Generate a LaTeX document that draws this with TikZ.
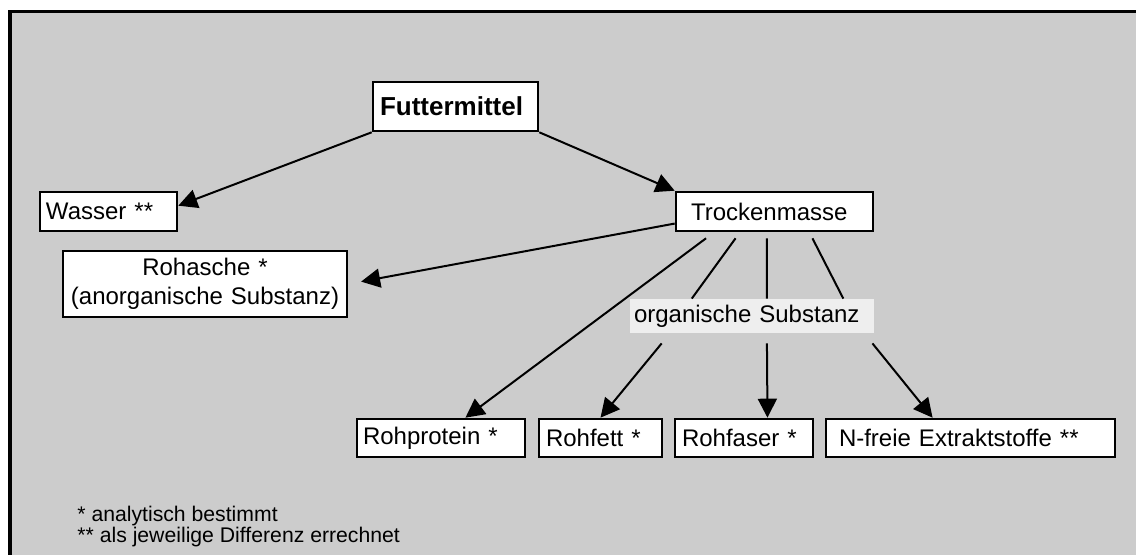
\documentclass[tikz,border=0pt]{standalone}
\usepackage{fontspec}
\setmainfont{Liberation Sans}
\usetikzlibrary{arrows.meta,calc}
\definecolor{bggray}{HTML}{CCCCCC}
\definecolor{labgray}{HTML}{EEEEEE}
\begin{document}
\begin{tikzpicture}[x=0.5pt,y=-0.5pt,
  box/.style={draw=black,line width=1.3pt,fill=white,font=\fontsize{12}{14.5}\selectfont,inner ysep=0pt,align=left},
  conn/.style={line width=1pt},
  arr/.style={conn,-{Triangle[length=9.5pt,width=9.5pt]}},
  note/.style={font=\fontsize{10.6}{12}\selectfont,anchor=base west,inner sep=0pt}]
\useasboundingbox (0,0) rectangle (1136,555);
\path[fill=white] (0,0) rectangle (1136,555);
\draw[fill=bggray,line width=1.75pt] (10,11.5) rectangle (1150,570);

\node[box,minimum height=24.5pt,inner xsep=3.5pt,text width=75.5pt,font=\fontsize{13}{15}\selectfont\bfseries] (futter) at (455.5,106.5) {Futtermittel};
\node[box,minimum height=19.5pt,inner xsep=7.5pt,text width=83.5pt] (trocken) at (774.5,211.5) {Trockenmasse};
\node[box,minimum height=19.5pt,inner xsep=3pt,text width=62.5pt] (wasser) at (108.5,211.5) {Wasser **};
\node[box,minimum height=33pt,inner xsep=3pt,text width=136pt,align=center] (asche) at (205,284) {Rohasche *\\(anorganische Substanz)};
\node[fill=labgray,minimum height=17pt,inner xsep=2pt,inner ysep=0pt,text width=118pt,align=left,font=\fontsize{12}{14.5}\selectfont] (orgsub) at (752,316) {organische Substanz};

\node[box,minimum height=19pt,inner xsep=3pt,text width=78pt] (protein) at (441,438) {Rohprotein *};
\node[box,minimum height=19pt,inner xsep=3.5pt,text width=54.5pt] (fett) at (600.5,438) {Rohfett *};
\node[box,minimum height=19pt,inner xsep=3.5pt,text width=62pt] (faser) at (744,438) {Rohfaser *};
\node[box,minimum height=19pt,inner xsep=6.5pt,text width=131.5pt] (nfe) at (970.5,438) {N-freie Extraktstoffe **};

\draw[arr] (futter.south west) -- ($(wasser.north east)!0.36!(wasser.south east)$);
\draw[arr] (futter.south east) -- (trocken.north west);
\draw[arr,shorten >=6.5pt] ($(trocken.north west)!0.79!(trocken.south west)$) -- (asche.east);

\coordinate (t1) at ($(trocken.south west)!0.157!(trocken.south east)+(0,6)$);
\coordinate (t2) at ($(trocken.south west)!0.305!(trocken.south east)+(0,6)$);
\coordinate (t3) at ($(trocken.south west)!0.462!(trocken.south east)+(0,6)$);
\coordinate (t4) at ($(trocken.south west)!0.69!(trocken.south east)+(0,6)$);

\draw[arr] (t1) -- ($(protein.north west)!0.643!(protein.north east)$);
\draw[conn] (t2) -- ($(orgsub.north west)!0.254!(orgsub.north east)$);
\draw[arr] ($(orgsub.south west)!0.131!(orgsub.south east)+(0,10)$) -- (fett.north);
\draw[conn] (t3) -- ($(orgsub.north west)!0.561!(orgsub.north east)$);
\draw[arr] ($(orgsub.south west)!0.561!(orgsub.south east)+(0,10)$) -- ($(faser.north west)!0.667!(faser.north east)$);
\draw[conn] (t4) -- ($(orgsub.north west)!0.873!(orgsub.north east)$);
\draw[arr] ($(orgsub.south west)!0.992!(orgsub.south east)+(0,10)$) -- ($(nfe.north west)!0.37!(nfe.north east)$);

\node[note] (n1) at (77,522) {* analytisch bestimmt};
\node[note] (n2) at (77,543) {** als jeweilige Differenz errechnet};
\end{tikzpicture}
\end{document}
